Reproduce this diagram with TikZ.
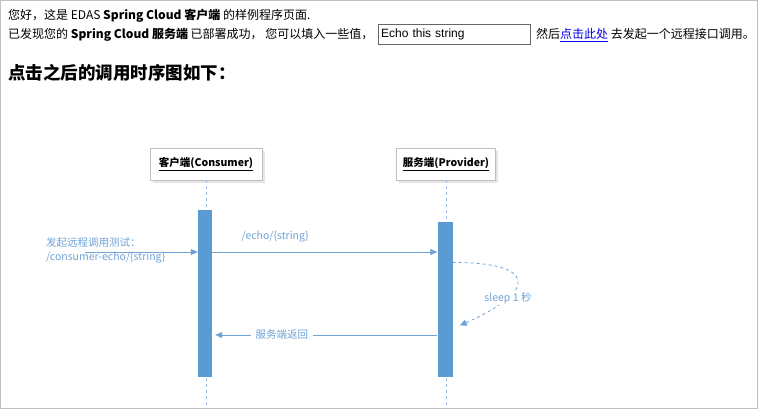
\documentclass[tikz,border=0pt]{standalone}
\usepackage{fontspec}
\setmainfont{Liberation Sans}
\newfontfamily\cjk{Noto Sans CJK SC}
\usetikzlibrary{positioning, arrows.meta, calc, shadows}
\definecolor{barblue}{HTML}{5B9BD3}
\definecolor{msgblue}{HTML}{6FA3D6}
\definecolor{linkblue}{HTML}{0000EE}
\tikzset{
  txt/.style={anchor=base west, inner sep=0pt, font=\cjk\fontsize{12pt}{14pt}\selectfont},
  actor/.style={rectangle, draw=black!25, fill=white, drop shadow={opacity=0.2}, minimum height=32pt, font=\cjk\fontsize{10.5pt}{12pt}\selectfont\bfseries},
  bar/.style={draw=none, fill=barblue},
  msg/.style={msgblue, thick, -{Triangle[length=7pt,width=6pt]}},
  lifeline/.style={msgblue!70, dashed},
  msgtxt/.style={text=msgblue, inner sep=1pt, font=\cjk\fontsize{10.5pt}{14pt}\selectfont}
}
\begin{document}
\begin{tikzpicture}[x=1pt, y=-1pt]
        \useasboundingbox (0,0) rectangle (758,409);
        \draw [black!25] (0.5,0.5) rectangle (757.5,408.5);

        % page text
        \node (line1) [txt] at (8,20) {您好，这是 EDAS \textbf{Spring Cloud 客户端} 的样例程序页面.};
        \node (line2) [txt] at (8,39) {已发现您的 \textbf{Spring Cloud 服务端} 已部署成功， 您可以填入一些值，};
        \node (input) [draw=black!60, minimum width=152pt, minimum height=20pt, anchor=west, inner sep=3pt,
              text width=146pt, font=\fontsize{12pt}{14pt}\selectfont] at (378,34) {Echo this string};
        \node (line2b) [txt] at (536,39) {然后{\color{linkblue}\underline{点击此处}} 去发起一个远程接口调用。};
        \node (title) [txt, font=\cjk\fontsize{17.5pt}{20pt}\selectfont\bfseries] at (8,80) {点击之后的调用时序图如下：};

        % actors
        \node (consumer) [actor, minimum width=112pt] at (206,164) {\underline{客户端(Consumer)}};
        \node (provider) [actor, minimum width=99pt] at (446,164) {\underline{服务端(Provider)}};
        \draw [lifeline] (consumer.south) -- (206,405);
        \draw [lifeline] (provider.south) -- (446,405);

        % activations
        \node (cbar) [bar, minimum width=14pt, minimum height=167pt, inner sep=0pt] at (205,293.5) {};
        \node (pbar) [bar, minimum width=15pt, minimum height=155pt, inner sep=0pt] at (445,299.5) {};

        % messages
        \coordinate (start) at (85,252);
        \draw [msg] (start) -- (cbar.west |- start);
        \node (calltxt) [msgtxt, anchor=west, align=left] at (45,250) {发起远程调用测试：\\/consumer-echo/\{string\}};
        \draw [msg] (cbar.east |- start) -- (pbar.west |- start)
              node (echotxt) [msgtxt, pos=0.28, above=8pt] {/echo/\{string\}};
        \coordinate (sleepa) at ($(pbar.east)+(0,-37)$);
        \coordinate (sleepb) at ($(pbar.east)+(7,26)$);
        \draw [msgblue, thick, dashed, -{Triangle[length=7pt,width=6pt]}] (sleepa) .. controls (535,262) and (540,290) .. (sleepb);
        \node (sleeptxt) [msgtxt, fill=white] at (508,298) {sleep 1 秒};
        \coordinate (ret) at (0,335);
        \draw [msg] (pbar.west |- ret) -- ($(cbar.east |- ret)+(3,0)$)
              node (rettxt) [msgtxt, pos=0.7, fill=white, inner sep=5pt] {服务端返回};
\end{tikzpicture}
\end{document}
